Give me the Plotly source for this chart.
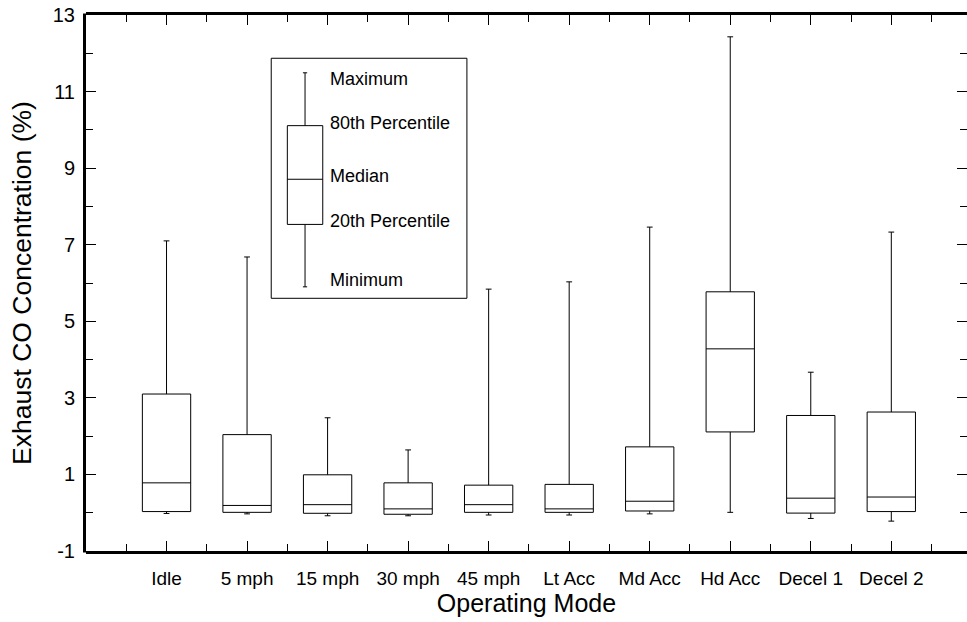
import plotly.graph_objects as go

modes = ["Idle", "5 mph", "15 mph", "30 mph", "45 mph", "Lt Acc", "Md Acc", "Hd Acc", "Decel 1", "Decel 2"]
mins = [-0.02, -0.03, -0.08, -0.08, -0.06, -0.06, -0.03, 0.01, -0.15, -0.22]
p20 = [0.03, 0.01, -0.015, -0.04, 0.01, 0.01, 0.045, 2.11, -0.01, 0.03]
medians = [0.78, 0.19, 0.21, 0.10, 0.21, 0.10, 0.30, 4.28, 0.38, 0.41]
p80 = [3.10, 2.04, 0.99, 0.78, 0.72, 0.74, 1.72, 5.77, 2.54, 2.63]
maxs = [7.10, 6.68, 2.48, 1.64, 5.84, 6.03, 7.46, 12.43, 3.67, 7.33]

y_tickvals = [-1, 1, 3, 5, 7, 9, 11, 13]
y_ticktext = ["-1", "1", "3", "5", "7", "9", "11", "13"]

key_labels = ["Maximum", "80th Percentile", "Median", "20th Percentile", "Minimum"]
key_values = [11.49, 10.11, 8.71, 7.53, 5.90]  # max, p80, median, p20, min
key_label_y = [11.33, 10.19, 8.80, 7.63, 6.08]
key_x = 2.72

positions = list(range(1, len(modes) + 1))
FONT = "Arial, Liberation Sans, Helvetica, sans-serif"

fig = go.Figure()
fig.add_trace(go.Box(
    x=positions,
    q1=p20, median=medians, q3=p80,
    lowerfence=mins, upperfence=maxs,
    width=0.6,
    whiskerwidth=0.12,
    line=dict(color="black", width=1),
    fillcolor="rgba(255,255,255,0)",
    boxpoints=False,
    showlegend=False,
    hoverinfo="skip",
))

# key illustration
fig.add_trace(go.Box(
    x=[key_x],
    q1=[key_values[3]], median=[key_values[2]], q3=[key_values[1]],
    lowerfence=[key_values[4]], upperfence=[key_values[0]],
    width=0.44,
    whiskerwidth=0.12,
    line=dict(color="black", width=1),
    fillcolor="rgba(255,255,255,0)",
    boxpoints=False,
    showlegend=False,
    hoverinfo="skip",
))

fig.add_shape(type="rect", xref="x", yref="y",
              x0=key_x - 0.42, x1=key_x + 2.01, y0=5.6, y1=11.87,
              line=dict(color="black", width=1))
for lab, ly in zip(key_labels, key_label_y):
    fig.add_annotation(x=key_x + 0.28, y=ly, text=lab, xref="x", yref="y",
                       xanchor="left", yanchor="middle", showarrow=False,
                       font=dict(family=FONT, size=18, color="black"))

# left axis line (right side of the frame lies outside the picture)
fig.add_shape(type="line", xref="paper", yref="paper",
              x0=-0.0017, x1=-0.0017, y0=-0.003, y1=1.003,
              line=dict(color="black", width=3))

fig.update_xaxes(
    range=[0, 10.94],
    tickvals=positions, ticktext=modes,
    ticks="inside", ticklen=10, tickwidth=1, tickcolor="black",
    minor=dict(dtick=0.5, tick0=0, ticks="inside", ticklen=7, tickcolor="black"),
    showline=True, linewidth=3, linecolor="black", mirror="ticks",
    showgrid=False, zeroline=False,
    tickfont=dict(family=FONT, size=19, color="black"),
    ticklabelstandoff=8,
    title=dict(text="Operating Mode", font=dict(family=FONT, size=25, color="black"), standoff=2),
)
fig.update_yaxes(
    range=[-1, 13],
    tickvals=y_tickvals, ticktext=y_ticktext,
    ticks="inside", ticklen=10, tickwidth=1, tickcolor="black",
    minor=dict(dtick=1, tick0=0, ticks="inside", ticklen=7, tickcolor="black"),
    showline=False, mirror="ticks",
    showgrid=False, zeroline=False,
    tickfont=dict(family=FONT, size=20, color="black"),
    ticklabelstandoff=10,
    title=dict(text="Exhaust CO Concentration (%)", font=dict(family=FONT, size=26.5, color="black"), standoff=13),
)

fig.update_layout(
    width=967, height=622,
    margin=dict(l=86, r=0, t=15, b=71),
    paper_bgcolor="white", plot_bgcolor="white",
    font=dict(family=FONT, color="black"),
)

fig.write_html("out.html")
